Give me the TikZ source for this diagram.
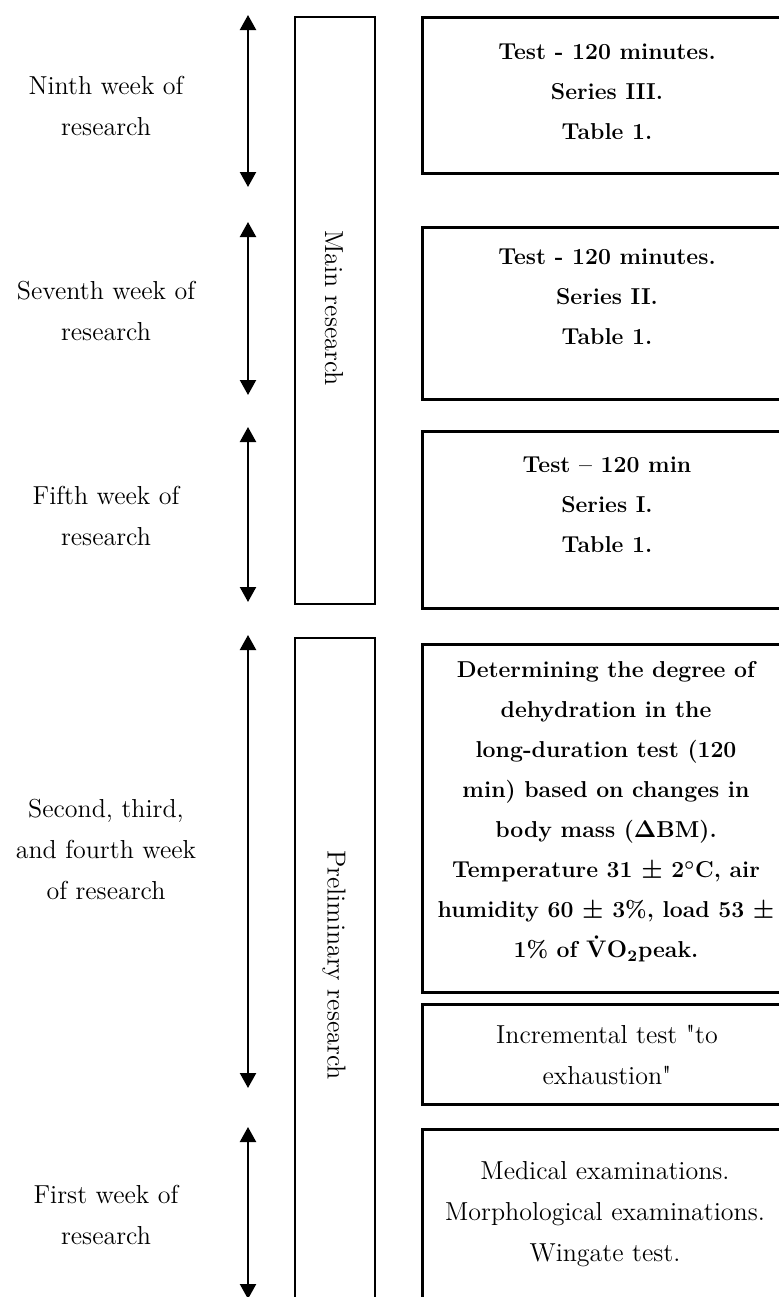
\documentclass[tikz,border=0pt]{standalone}
\usepackage{fontspec}
\usetikzlibrary{positioning,arrows.meta}
\tikzset{
  weekarrow/.style={{Triangle[length=7.5pt,width=8pt]}-{Triangle[length=7.5pt,width=8pt]},line width=1.1pt},
  weeklabel/.style={align=center,font=\fontsize{13}{20.5}\selectfont},
  phasebox/.style={draw,line width=1pt,minimum width=40pt,inner sep=0pt,anchor=north west},
  phaselabel/.style={rotate=-90,font=\fontsize{13}{16}\selectfont},
  stagebox/.style={draw,line width=1.3pt,minimum width=186pt,inner sep=0pt,anchor=north west},
  boldtext/.style={align=center,font=\fontsize{11.5}{20}\selectfont\bfseries\boldmath},
  plaintext/.style={align=center,font=\fontsize{13}{20.5}\selectfont}
}

\begin{document}
\begin{tikzpicture}[x=0.5pt,y=-0.5pt]
  \useasboundingbox (0,0) rectangle (778,1297);
  \node[weeklabel] (week9) at (106,106) {Ninth week of\\research};
  \node[weeklabel] (week7) at (106,311) {Seventh week of\\research};
  \node[weeklabel] (week5) at (106,516) {Fifth week of\\research};
  \node[weeklabel] (week24) at (106,849) {Second, third,\\and fourth week\\of research};
  \node[weeklabel] (week1) at (106,1215) {First week of\\research};
  \coordinate (a9top) at (248,15);
  \coordinate (a9bot) at (248,187);
  \coordinate (a7top) at (248,222);
  \coordinate (a7bot) at (248,395);
  \coordinate (a5top) at (248,427);
  \coordinate (a5bot) at (248,602);
  \coordinate (a24top) at (248,635);
  \coordinate (a24bot) at (248,1088);
  \coordinate (a1top) at (248,1127);
  \coordinate (a1bot) at (248,1299);
  \draw[weekarrow] (a9top) -- (a9bot);
  \draw[weekarrow] (a7top) -- (a7bot);
  \draw[weekarrow] (a5top) -- (a5bot);
  \draw[weekarrow] (a24top) -- (a24bot);
  \draw[weekarrow] (a1top) -- (a1bot);
  \node[phasebox,minimum height=293.5pt] (mainbox) at (294,16) {};
  \node[phaselabel] (mainlabel) at (334,308) {Main research};
  \node[phasebox,minimum height=346.5pt] (prelimbox) at (294,637) {};
  \node[phaselabel] (prelimlabel) at (334,965) {Preliminary research};
  \node[stagebox,minimum height=78pt] (week9box) at (421,16) {};
  \node[stagebox,minimum height=86pt] (week7box) at (421,226) {};
  \node[stagebox,minimum height=88.5pt] (week5box) at (421,430) {};
  \node[stagebox,minimum height=174pt] (dehydbox) at (421,643) {};
  \node[stagebox,minimum height=50pt] (incrbox) at (421,1003) {};
  \node[stagebox,minimum height=101pt] (week1box) at (421,1128) {};
  \node[boldtext] (week9txt) at (607,92) {Test - 120 minutes.\\Series III.\\Table 1.};
  \node[boldtext] (week7txt) at (607,297) {Test - 120 minutes.\\Series II.\\Table 1.};
  \node[boldtext] (week5txt) at (607,505) {Test -- 120 min\\Series I.\\Table 1.};
  \node[boldtext] (dehydtxt) at (606,812) {Determining the degree of\\dehydration in the\\long-duration test (120\\min) based on changes in\\body mass ($\mathbf{\Delta}$BM).\\Temperature 31 $\pm$ 2$^{\circ}$C, air\\humidity 60 $\pm$ 3\%, load 53 $\pm$\\1\% of $\dot{\mathbf{V}}\mathbf{O}_{2}$peak.};
  \node[plaintext] (incrtxt) at (607,1055) {Incremental test \textquotedbl to\\exhaustion\textquotedbl};
  \node[plaintext] (week1txt) at (605,1214) {Medical examinations.\\Morphological examinations.\\Wingate test.};
\end{tikzpicture}
\end{document}
